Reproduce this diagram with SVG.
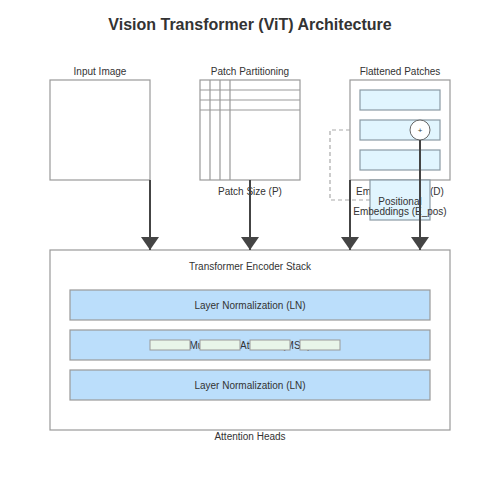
<svg xmlns="http://www.w3.org/2000/svg" width="500" height="500" viewBox="0 0 500 500">
<defs>
<marker id="arr" viewBox="0 0 13 18" refX="13" refY="9" markerWidth="13" markerHeight="18" markerUnits="userSpaceOnUse" orient="auto">
<path d="M0,0 L13,9 L0,18 Z" fill="#444"/>
</marker>
<style>
text{font-family:"Liberation Sans",Arial,sans-serif;fill:#333;text-anchor:middle}
.t{font-size:16px;font-weight:bold}
.l{font-size:10px}
.box{fill:#fff;stroke:#999;stroke-width:1.2}
.grid{stroke:#999;stroke-width:1.2;fill:none}
.patch{fill:#e1f5fe;stroke:#8a9aa4;stroke-width:1.2}
.bar{fill:#bbdefb;stroke:#999;stroke-width:1.2}
.head{fill:#e8f5e9;stroke:#999;stroke-width:1}
.arrow{stroke:#444;stroke-width:2;fill:none;marker-end:url(#arr)}
.dash{stroke:#aaa;stroke-width:1.2;fill:none;stroke-dasharray:4,3}
</style>
</defs>
<rect width="500" height="500" fill="#fff"/>
<text class="t" x="250" y="30">Vision Transformer (ViT) Architecture</text>

<g id="input-image">
<text class="l" x="100" y="75">Input Image</text>
<rect class="box" x="50" y="80" width="100" height="100"/>
</g>

<g id="patch-partitioning">
<text class="l" x="250" y="75">Patch Partitioning</text>
<rect class="box" x="200" y="80" width="100" height="100"/>
<path class="grid" d="M210,80V180M220,80V180M230,80V180M200,90H300M200,100H300M200,110H300"/>
<text class="l" x="250" y="195">Patch Size (P)</text>
</g>

<g id="flattened-patches">
<text class="l" x="400" y="75">Flattened Patches</text>
<rect class="box" x="350" y="80" width="100" height="100"/>
<rect class="patch" x="360" y="90" width="80" height="20"/>
<rect class="patch" x="360" y="120" width="80" height="20"/>
<rect class="patch" x="360" y="150" width="80" height="20"/>
<text class="l" x="400" y="195">Embedding Dim (D)</text>
</g>

<g id="encoder">
<rect class="box" x="50" y="250" width="400" height="180"/>
<text class="l" x="250" y="270">Transformer Encoder Stack</text>
<text class="l" x="250" y="440">Attention Heads</text>
</g>

<g id="ln1">
<rect class="bar" x="70" y="290" width="360" height="30"/>
<text class="l" x="250" y="309">Layer Normalization (LN)</text>
</g>

<g id="msa">
<rect class="bar" x="70" y="330" width="360" height="30"/>
<text class="l" x="250" y="349">Multi-Head Attention (MSA)</text>
<rect class="head" x="150" y="340" width="40" height="10"/>
<rect class="head" x="200" y="340" width="40" height="10"/>
<rect class="head" x="250" y="340" width="40" height="10"/>
<rect class="head" x="300" y="340" width="40" height="10"/>
</g>

<g id="ln2">
<rect class="bar" x="70" y="370" width="360" height="30"/>
<text class="l" x="250" y="389">Layer Normalization (LN)</text>
</g>

<g id="connectors">
<path class="dash" d="M350,130H330V200H370"/>
<path class="arrow" d="M150,180V250"/>
<path class="arrow" d="M250,180V250"/>
<path class="arrow" d="M350,180V250"/>
</g>

<g id="positional-embeddings">
<rect class="patch" x="370" y="180" width="60" height="40"/>
<text class="l" x="400" y="205">Positional</text>
<text class="l" x="400" y="215">Embeddings (E_pos)</text>
</g>

<g id="add">
<circle cx="420" cy="130" r="10" fill="#fff" stroke="#666" stroke-width="1"/>
<text class="l" x="420" y="133" style="font-size:8px">+</text>
</g>

<g id="connectors-2">
<path class="arrow" d="M420,140V250"/>
</g>
</svg>
